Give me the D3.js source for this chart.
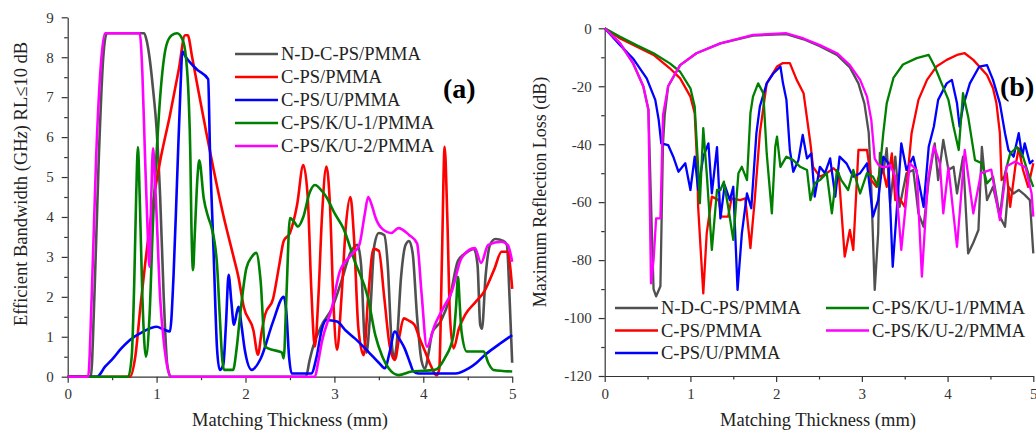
<!DOCTYPE html>
<html>
<head>
<meta charset="utf-8">
<script src="https://cdn.jsdelivr.net/npm/d3@7"></script>
<style>
  body { margin: 0; background: #fff; }
  svg text { font-family: "Liberation Serif", "Times New Roman", serif; fill: #222; }
</style>
</head>
<body>
<svg id="chart" width="1036" height="433"></svg>
<script>
// ---- data: [thickness (mm), value] ----
const seriesNames = ["N-D-C-PS/PMMA", "C-PS/PMMA", "C-PS/U/PMMA", "C-PS/K/U-1/PMMA", "C-PS/K/U-2/PMMA"];
const seriesColors = ["#505050", "#ff0000", "#0000ff", "#008000", "#ff00ff"];

// (a) efficient bandwidth (GHz)
const bwNDCPS = [[0,0],[0.26,0],[0.3,2],[0.35,5.5],[0.4,8],[0.44,8.6],[0.86,8.6],[0.89,8.4],[0.92,8.0],[0.96,7.2],[1.0,6.2],[1.04,4.5],[1.08,2.0],[1.12,0.3],[1.16,0],[2.68,0],[2.72,0.4],[2.76,0.75],[2.86,1.3],[2.97,1.7],[3.08,2.4],[3.18,3.1],[3.26,3.3],[3.3,2.8],[3.34,0.9],[3.36,0.6],[3.4,1.5],[3.45,3.3],[3.5,3.6],[3.56,3.55],[3.6,2.8],[3.64,1.0],[3.67,0.45],[3.7,0.8],[3.75,2.5],[3.8,3.3],[3.84,3.4],[3.88,3.1],[3.93,1.5],[3.98,0.4],[4.02,0.2],[4.06,0.6],[4.1,1.1],[4.2,1.4],[4.3,2.0],[4.39,2.9],[4.48,3.1],[4.57,3.2],[4.61,2.8],[4.64,1.3],[4.66,1.2],[4.7,2.5],[4.75,3.3],[4.81,3.45],[4.9,3.4],[4.94,3.3],[4.97,2.0],[5.0,0.35]];
const bwCPS = [[0,0],[0.7,0],[0.76,0.5],[0.82,1.8],[0.87,2.8],[0.94,4.05],[1.04,5.4],[1.15,6.55],[1.25,7.7],[1.32,8.55],[1.35,8.55],[1.4,8.0],[1.45,7.4],[1.56,6.1],[1.64,5.2],[1.75,4.05],[1.86,3.05],[1.92,2.5],[1.98,1.75],[2.09,1.15],[2.14,0.55],[2.18,1.1],[2.22,1.55],[2.31,1.95],[2.38,2.8],[2.43,3.4],[2.5,3.6],[2.58,4.3],[2.65,5.3],[2.7,4.5],[2.74,2.2],[2.78,0.75],[2.82,2.0],[2.86,4.0],[2.91,5.26],[2.95,4.3],[2.99,1.8],[3.03,0.67],[3.08,2.0],[3.13,3.8],[3.18,4.5],[3.22,3.5],[3.27,1.2],[3.33,0.54],[3.38,2.0],[3.44,3.2],[3.5,3.15],[3.56,2.0],[3.62,0.8],[3.68,0.42],[3.73,1.0],[3.78,1.46],[3.84,1.4],[3.9,1.3],[3.96,0.95],[4.02,0.63],[4.08,0.3],[4.15,0.03],[4.18,0.2],[4.21,3.0],[4.24,5.76],[4.27,4.0],[4.3,1.5],[4.34,0.71],[4.4,1.2],[4.47,1.55],[4.58,1.85],[4.69,2.15],[4.8,2.7],[4.88,3.13],[4.95,3.13],[4.98,2.7],[5.0,2.2]];
const bwCPSU = [[0,0],[0.33,0],[0.42,0.25],[0.51,0.46],[0.6,0.7],[0.7,0.92],[0.85,1.13],[1.0,1.25],[1.08,1.18],[1.15,1.13],[1.19,2.5],[1.23,4.9],[1.27,7.3],[1.29,8.14],[1.33,8.0],[1.45,7.7],[1.58,7.45],[1.6,5.7],[1.64,3.2],[1.68,0.7],[1.71,0.17],[1.75,0.3],[1.78,1.3],[1.81,2.55],[1.84,1.9],[1.87,1.3],[1.92,1.75],[1.96,1.2],[1.99,0.7],[2.07,0.17],[2.17,0.45],[2.31,1.38],[2.43,2.0],[2.46,1.6],[2.49,0.5],[2.52,0.08],[2.74,0.08],[2.8,0.5],[2.86,1.2],[2.91,1.42],[3.03,1.38],[3.13,1.15],[3.23,0.96],[3.38,0.63],[3.5,0.35],[3.57,0.21],[3.62,0.6],[3.68,1.13],[3.73,0.95],[3.79,0.71],[3.85,0.35],[3.89,0.13],[3.95,0.08],[4.36,0.08],[4.51,0.21],[4.6,0.35],[4.69,0.54],[4.84,0.79],[5.0,1.04]];
const bwCPSKU1 = [[0,0],[0.68,0],[0.72,0.5],[0.75,2.5],[0.77,4.5],[0.79,5.75],[0.81,4.5],[0.84,2.0],[0.88,0.5],[0.92,1.5],[0.96,3.9],[1.0,5.6],[1.04,7.0],[1.11,8.3],[1.17,8.55],[1.23,8.6],[1.29,8.45],[1.33,8.0],[1.36,7.0],[1.38,5.5],[1.39,4.0],[1.41,2.67],[1.43,3.6],[1.46,5.0],[1.48,5.42],[1.53,4.47],[1.58,4.0],[1.62,3.72],[1.68,2.8],[1.71,1.55],[1.74,0.4],[1.76,0.17],[1.86,0.17],[1.9,0.7],[1.94,1.55],[2.01,2.72],[2.07,3.0],[2.12,3.1],[2.17,2.4],[2.22,0.75],[2.31,0.67],[2.38,0.63],[2.41,0.6],[2.43,0.46],[2.46,2.0],[2.5,3.97],[2.54,3.9],[2.59,3.76],[2.65,4.0],[2.72,4.6],[2.78,4.8],[2.86,4.65],[2.91,4.5],[3.0,4.1],[3.1,3.72],[3.23,2.88],[3.38,1.96],[3.46,1.04],[3.54,0.5],[3.61,0.21],[3.72,0.04],[3.87,0.13],[4.13,0.17],[4.24,0.46],[4.34,1.04],[4.37,1.8],[4.39,2.5],[4.41,1.8],[4.43,1.13],[4.49,0.63],[4.68,0.63],[4.73,0.35],[4.79,0.17],[5.0,0.13]];
const bwCPSKU2 = [[0,0],[0.23,0],[0.27,2],[0.32,5.5],[0.38,8],[0.42,8.6],[0.81,8.6],[0.84,7.6],[0.87,5.5],[0.9,3.6],[0.92,2.75],[0.94,4.5],[0.96,5.72],[0.98,5.0],[1.0,4.05],[1.04,1.96],[1.08,0.9],[1.11,0.38],[1.16,0],[2.78,0],[2.82,0.4],[2.86,0.88],[2.97,1.71],[3.06,2.63],[3.19,3.05],[3.28,3.3],[3.34,4.05],[3.38,4.5],[3.42,4.3],[3.46,4.0],[3.53,3.72],[3.64,3.6],[3.72,3.72],[3.84,3.55],[3.93,3.34],[3.98,2.1],[4.04,0.75],[4.13,1.3],[4.22,1.7],[4.32,2.13],[4.43,2.97],[4.58,3.22],[4.65,2.85],[4.73,3.3],[4.88,3.38],[4.95,3.3],[5.0,2.88]];

// (b) maximum reflection loss (dB)
const rlNDCPS = [[0,0],[0.18,-5.2],[0.33,-12],[0.45,-20],[0.51,-28],[0.55,-70],[0.57,-90],[0.6,-92.5],[0.65,-89],[0.68,-40],[0.7,-30],[0.74,-20],[0.88,-12.7],[1.07,-8.6],[1.35,-5.2],[1.73,-2.5],[2.12,-2.0],[2.32,-3.8],[2.51,-6.2],[2.71,-9.2],[2.86,-13.5],[2.96,-19],[3.03,-26],[3.08,-36],[3.11,-55],[3.15,-90.3],[3.19,-70.8],[3.21,-43],[3.25,-50],[3.29,-41.4],[3.33,-60.4],[3.39,-44.3],[3.44,-61.6],[3.52,-50],[3.6,-48.9],[3.66,-63.9],[3.72,-68.5],[3.78,-52.4],[3.85,-39.7],[3.89,-52.4],[3.95,-38.5],[4.01,-48.9],[4.07,-47.8],[4.11,-57],[4.18,-44.3],[4.24,-77.7],[4.3,-74],[4.36,-69.6],[4.4,-40.9],[4.46,-59.3],[4.53,-54.7],[4.61,-65],[4.67,-68.5],[4.71,-54.7],[4.77,-57],[4.83,-55.8],[4.9,-57.5],[4.96,-59.3],[5.0,-77.7]];
const rlCPS = [[0,0],[0.18,-3.5],[0.37,-6.3],[0.57,-9.2],[0.76,-13.8],[0.88,-17.3],[1.0,-23.6],[1.05,-29.3],[1.08,-47.8],[1.09,-61.6],[1.15,-91.5],[1.19,-70.8],[1.25,-58.1],[1.33,-59.3],[1.36,-65],[1.44,-65],[1.48,-58.7],[1.58,-59.3],[1.64,-58.7],[1.7,-75.9],[1.75,-59.3],[1.81,-36.2],[1.89,-19],[2.01,-13.2],[2.08,-12],[2.16,-12],[2.24,-17.8],[2.32,-22.4],[2.4,-39.7],[2.43,-47.8],[2.51,-51.2],[2.59,-50],[2.67,-48.3],[2.73,-50],[2.8,-78.8],[2.86,-69.6],[2.9,-76.5],[2.96,-42],[3.06,-42],[3.11,-52.4],[3.17,-54.7],[3.23,-46.6],[3.29,-54.7],[3.35,-43.2],[3.39,-59.3],[3.44,-58.7],[3.5,-61.6],[3.58,-36.2],[3.66,-24.7],[3.76,-17.8],[3.87,-13.2],[3.99,-10.9],[4.11,-9.2],[4.2,-8.6],[4.3,-10.9],[4.46,-16.1],[4.53,-20.7],[4.57,-25.9],[4.61,-36.2],[4.63,-52.4],[4.69,-50],[4.73,-61.6],[4.79,-47.8],[4.83,-41.4],[4.88,-48.9],[4.94,-54.7],[5.0,-46.6]];
const rlCPSU = [[0,0],[0.18,-5.8],[0.33,-10.4],[0.49,-17.3],[0.59,-24.7],[0.63,-31.6],[0.66,-39.7],[0.74,-40.3],[0.8,-44.3],[0.86,-49.5],[0.94,-46.6],[1.0,-55.8],[1.05,-44.3],[1.09,-55.8],[1.15,-44.3],[1.21,-39.7],[1.25,-57],[1.31,-41],[1.35,-65.6],[1.4,-54.1],[1.46,-59.3],[1.5,-54.7],[1.55,-90.3],[1.6,-70.8],[1.66,-57],[1.71,-62.1],[1.77,-36.2],[1.81,-27],[1.89,-19],[1.97,-15.5],[2.05,-13.2],[2.08,-19],[2.12,-24.7],[2.16,-42],[2.2,-49.5],[2.26,-45.5],[2.31,-36.8],[2.36,-44.9],[2.41,-43.2],[2.45,-58.1],[2.51,-47.8],[2.57,-50],[2.63,-44.9],[2.69,-58.1],[2.74,-44.3],[2.82,-46.6],[2.9,-51.2],[2.98,-50],[3.06,-46.6],[3.13,-65],[3.19,-59.3],[3.25,-44.3],[3.31,-46.6],[3.36,-82.3],[3.41,-61.6],[3.46,-39.7],[3.52,-48.9],[3.6,-44.3],[3.66,-52.4],[3.72,-61.6],[3.78,-40.9],[3.84,-33.9],[3.89,-24.7],[3.99,-19],[4.05,-17.8],[4.11,-25.9],[4.14,-33.9],[4.18,-27],[4.26,-19],[4.37,-13.2],[4.46,-12.7],[4.53,-17.8],[4.61,-25.9],[4.67,-36.2],[4.71,-42],[4.77,-44.3],[4.83,-36.2],[4.87,-44.3],[4.9,-39.7],[4.96,-46.6],[5.0,-45.5]];
const rlCPSKU1 = [[0,0],[0.18,-2.9],[0.37,-5.8],[0.57,-8.6],[0.76,-12.1],[0.88,-15],[1.0,-20.7],[1.05,-27],[1.09,-47.8],[1.11,-60.4],[1.15,-34.5],[1.19,-50],[1.25,-76.5],[1.31,-55.8],[1.35,-55.8],[1.39,-52.9],[1.44,-61.6],[1.5,-73],[1.56,-50],[1.6,-47.8],[1.66,-52.4],[1.7,-29.3],[1.73,-23.6],[1.79,-19],[1.85,-22.4],[1.89,-43.2],[1.95,-63.9],[1.99,-40.9],[2.01,-37.4],[2.05,-47.8],[2.12,-44.3],[2.2,-45.5],[2.28,-47.8],[2.36,-48.9],[2.4,-59.3],[2.45,-53.5],[2.51,-52.4],[2.59,-50],[2.65,-63.9],[2.71,-48.9],[2.76,-52.4],[2.84,-55.8],[2.9,-48.9],[2.98,-57],[3.06,-50],[3.13,-51.2],[3.19,-54.7],[3.25,-36.2],[3.29,-25.9],[3.37,-17],[3.48,-12.5],[3.64,-10.3],[3.78,-9.2],[3.85,-13.2],[3.93,-19],[4.01,-24.7],[4.07,-34],[4.13,-42],[4.18,-22.4],[4.24,-30.5],[4.32,-45.5],[4.4,-46.6],[4.46,-53.5],[4.53,-51.2],[4.61,-65],[4.67,-50],[4.73,-43.2],[4.81,-41],[4.88,-44.3],[4.94,-50],[5.0,-54.7]];
const rlCPSKU2 = [[0,0],[0.18,-5.2],[0.33,-12],[0.45,-20],[0.51,-28.2],[0.54,-88],[0.57,-80],[0.6,-65.6],[0.65,-65.6],[0.68,-30],[0.74,-20],[0.88,-12.7],[1.07,-8.6],[1.35,-5.2],[1.73,-2.3],[2.12,-1.7],[2.32,-3.5],[2.51,-5.8],[2.71,-8.6],[2.86,-12.7],[2.98,-17.8],[3.06,-23.6],[3.11,-31.6],[3.15,-45],[3.19,-47],[3.23,-47.8],[3.29,-47.8],[3.33,-47.2],[3.39,-51.2],[3.46,-76.5],[3.56,-46.6],[3.64,-49],[3.7,-85.7],[3.77,-52.4],[3.84,-40.6],[3.91,-46.5],[3.95,-63.9],[4.01,-48],[4.11,-75.4],[4.2,-42],[4.3,-63.9],[4.39,-50],[4.51,-48.8],[4.61,-66.2],[4.69,-47.6],[4.79,-46],[4.91,-48],[4.98,-57],[5.0,-65]];

const xTicks = [0, 1, 2, 3, 4, 5];
const xMinorTicks = [0.5, 1.5, 2.5, 3.5, 4.5];
const bwTicks = [0, 1, 2, 3, 4, 5, 6, 7, 8, 9];
const bwMinorTicks = [0.5, 1.5, 2.5, 3.5, 4.5, 5.5, 6.5, 7.5, 8.5];
const rlTicks = [0, -20, -40, -60, -80, -100, -120];
const rlMinorTicks = [-10, -30, -50, -70, -90, -110];

class LinePanel {
    constructor(_config, _series) {
        this.config = _config;
        this.series = _series;
        this.initVis();
    }

    initVis() {
        let vis = this;
        const c = vis.config;

        vis.xScale = d3.scaleLinear().domain([0, 5]).range([0, c.width]);
        vis.yScale = d3.scaleLinear().domain(c.yDomain).range([c.height, 0]);

        vis.chart = d3.select(c.parentElement).append("g")
            .attr("transform", `translate(${c.left},${c.top})`);

        // minor ticks first, then major axes on top
        vis.chart.append("g")
            .attr("transform", `translate(0,${c.height})`)
            .call(d3.axisBottom(vis.xScale).tickValues(xMinorTicks).tickSize(3.5).tickFormat(""))
            .call(g => g.select(".domain").remove());
        vis.chart.append("g")
            .call(d3.axisLeft(vis.yScale).tickValues(c.yMinorTicks).tickSize(3.5).tickFormat(""))
            .call(g => g.select(".domain").remove());

        vis.chart.append("g")
            .attr("class", "x-axis")
            .attr("transform", `translate(0,${c.height})`)
            .call(d3.axisBottom(vis.xScale).tickValues(xTicks).tickFormat(d => d)
                .tickSize(6).tickPadding(6).tickSizeOuter(0));
        vis.chart.append("g")
            .attr("class", "y-axis")
            .call(d3.axisLeft(vis.yScale).tickValues(c.yTicks).tickFormat(d => d)
                .tickSize(6).tickPadding(c.yPad).tickSizeOuter(0));

        vis.chart.selectAll("g").attr("font-family", "Liberation Serif, serif");
        vis.chart.selectAll(".tick line, .domain").attr("stroke", "#333").attr("stroke-width", 1.2);
        vis.chart.selectAll(".tick text")
            .style("font-size", "15px")
            .style("fill", "#333");

        vis.line = d3.line()
            .x(d => vis.xScale(d[0]))
            .y(d => vis.yScale(d[1]))
            .curve(c.curve);

        vis.renderVis();
    }

    renderVis() {
        let vis = this;
        vis.chart.selectAll(".series")
            .data(vis.series)
            .join("path")
            .attr("class", "series")
            .attr("fill", "none")
            .attr("stroke", (d, i) => seriesColors[i])
            .attr("stroke-width", vis.config.lineWidth)
            .attr("stroke-linejoin", "round")
            .attr("d", d => vis.line(d));
    }
}

const svg = d3.select("#chart");

new LinePanel({
    parentElement: "#chart",
    left: 67.7, top: 17.3, width: 444.5, height: 359.4,
    yDomain: [0, 9], yTicks: bwTicks, yMinorTicks: bwMinorTicks, yPad: 8,
    curve: d3.curveMonotoneX, lineWidth: 2.6
}, [bwNDCPS, bwCPS, bwCPSU, bwCPSKU1, bwCPSKU2]);

new LinePanel({
    parentElement: "#chart",
    left: 604.7, top: 28.3, width: 428.6, height: 347.7,
    yDomain: [-120, 0], yTicks: rlTicks, yMinorTicks: rlMinorTicks, yPad: 7,
    curve: d3.curveLinear, lineWidth: 2.3
}, [rlNDCPS, rlCPS, rlCPSU, rlCPSKU1, rlCPSKU2]);

// axis titles
svg.append("text").attr("x", 290).attr("y", 426).attr("text-anchor", "middle")
    .style("font-size", "18.5px").text("Matching Thickness (mm)");
svg.append("text").attr("x", 818).attr("y", 426).attr("text-anchor", "middle")
    .style("font-size", "18.5px").text("Matching Thickness (mm)");

const yTitleA = svg.append("text")
    .attr("transform", "translate(27,184) rotate(-90)")
    .attr("text-anchor", "middle")
    .style("font-size", "18.5px");
yTitleA.append("tspan").text("Efficient Bandwidth (GH");
yTitleA.append("tspan").style("font-style", "italic").text("z");
yTitleA.append("tspan").text(") RL\u226410 dB");

svg.append("text")
    .attr("transform", "translate(546,192) rotate(-90)")
    .attr("text-anchor", "middle")
    .style("font-size", "18px")
    .text("Maximum Reflection Loss (dB)");

// panel letters
svg.append("text").attr("x", 443).attr("y", 98)
    .style("font-size", "28px").style("font-weight", "bold").style("fill", "#000").text("(a)");
svg.append("text").attr("x", 1000).attr("y", 96)
    .style("font-size", "28px").style("font-weight", "bold").style("fill", "#000").text("(b)");

// legends
const legendA = seriesNames.map((name, i) => ({name, color: seriesColors[i], x: 235, y: 54 + i * 23}));
const legendB = seriesNames.map((name, i) => ({
    name, color: seriesColors[i],
    x: i < 3 ? 615 : 826,
    y: 308 + (i < 3 ? i : i - 3) * 22.5
}));

[legendA, legendB].forEach(items => {
    const g = svg.append("g");
    g.selectAll("line").data(items).join("line")
        .attr("x1", d => d.x).attr("x2", d => d.x + 43)
        .attr("y1", d => d.y).attr("y2", d => d.y)
        .attr("stroke", d => d.color).attr("stroke-width", 2.6);
    g.selectAll("text").data(items).join("text")
        .attr("x", d => d.x + 46).attr("y", d => d.y)
        .attr("dy", "0.35em")
        .style("font-size", "18.5px")
        .text(d => d.name);
});
</script>
</body>
</html>
